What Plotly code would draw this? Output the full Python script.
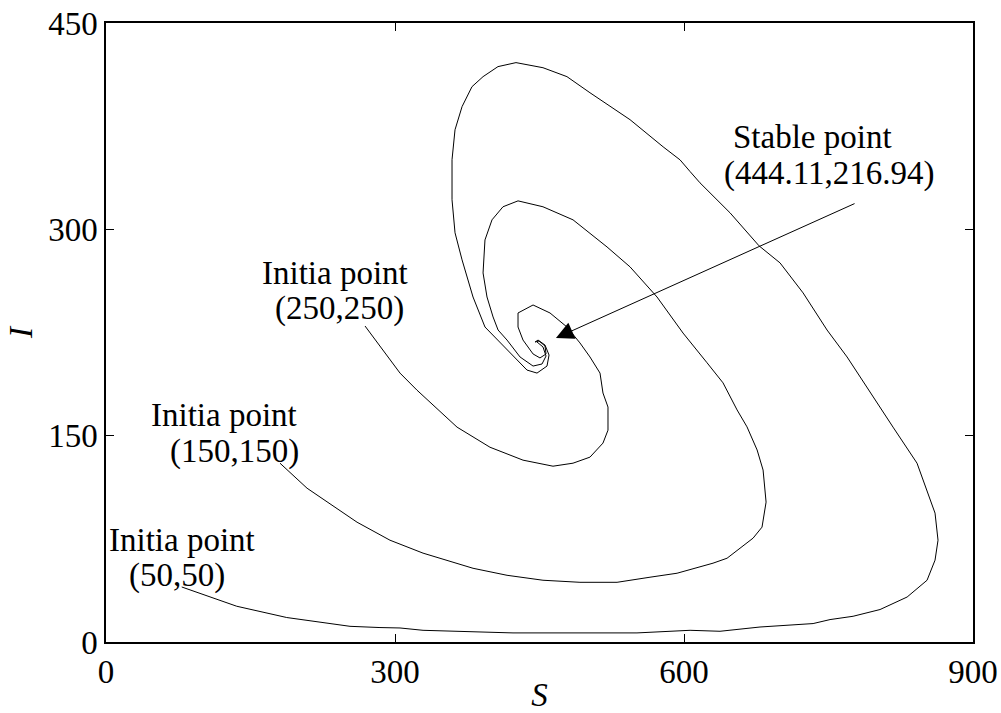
import plotly.graph_objects as go

# Trajectory starting near (50,50)
S_a = [78.6, 135.7, 187.6, 253.3, 284.4, 305.2, 329.1, 422.5, 551.2, 606.3, 637.4, 678.9,
       734.0, 751.6, 775.5, 803.5, 831.6, 852.3, 860.6, 863.7, 860.6, 853.3, 841.9, 817.0,
       790.0, 769.3, 748.5, 723.6, 699.7, 677.9, 647.8, 616.6, 606.3, 595.9, 578.3, 544.0,
       502.4, 478.5, 453.6, 425.6, 406.9, 391.4, 379.9, 369.6, 362.3, 359.2, 359.2, 362.3,
       369.6, 381.0, 393.4, 416.3, 437.0, 447.4, 457.8, 459.9, 455.7, 448.5, 445.4]
I_a = [40.0, 26.0, 17.8, 11.4, 10.5, 10.2, 8.5, 6.6, 6.6, 8.5, 7.8, 10.9,
       13.4, 16.3, 18.7, 23.6, 32.7, 44.9, 59.5, 74.0, 93.7, 108.2, 130.0, 156.2,
       185.4, 207.2, 226.8, 253.8, 275.6, 288.0, 312.0, 333.8, 342.0, 350.5, 360.0, 379.7,
       399.3, 411.0, 417.5, 421.2, 418.3, 411.0, 403.7, 389.2, 372.4, 350.6, 321.5, 297.5,
       277.8, 250.8, 229.0, 212.3, 197.7, 195.5, 200.6, 208.6, 215.9, 219.5, 218.1]

# Trajectory starting near (150,150)
S_b = [180.6, 208.7, 260.6, 294.8, 329.1, 381.0, 416.3, 453.6, 492.0, 530.5, 564.7, 592.8,
       630.1, 644.7, 671.7, 681.0, 685.2, 684.1, 682.1, 675.9, 665.4, 655.1, 640.5, 623.9,
       599.0, 572.0, 544.0, 520.1, 484.8, 453.6, 427.7, 412.1, 400.7, 393.4, 391.4, 395.5,
       401.8, 407.0, 416.3, 429.8, 443.3, 452.6, 456.8, 453.6, 447.4, 445.4]
I_b = [130.0, 111.8, 87.1, 74.0, 64.6, 53.6, 48.5, 44.9, 43.4, 43.4, 47.1, 50.0,
       57.3, 60.9, 75.5, 83.5, 101.7, 110.5, 125.0, 139.6, 156.4, 168.7, 188.4, 203.0,
       224.6, 250.8, 272.7, 287.2, 306.9, 316.4, 320.7, 316.4, 306.9, 292.3, 268.3, 250.8,
       236.3, 226.8, 219.5, 207.2, 200.6, 202.1, 207.9, 214.5, 218.1]

# Trajectory starting near (250,250)
S_c = [268.9, 294.8, 305.2, 322.8, 364.4, 398.6, 432.9, 464.0, 484.8, 502.4, 515.9, 521.1,
       521.1, 515.9, 512.8, 502.4, 492.0, 478.5, 460.9, 443.3, 427.7, 427.7, 432.9, 443.3,
       450.5, 456.8, 455.7, 449.5, 445.4]
I_c = [229.7, 204.9, 195.5, 183.1, 156.2, 141.6, 132.2, 127.8, 130.0, 134.4, 144.6, 154.0,
       170.8, 181.0, 195.5, 207.2, 217.4, 229.0, 239.2, 245.0, 239.2, 229.0, 219.5, 209.4,
       206.5, 209.4, 215.2, 218.8, 218.1]

x_ticks = [0, 300, 600, 900]
y_ticks = [0, 150, 300, 450]

stable_label = ["Stable point", "(444.11,216.94)"]
init_labels = [["Initia point", "(250,250)"], ["Initia point", "(150,150)"], ["Initia point", "(50,50)"]]

FONT = "Liberation Serif"

fig = go.Figure()
for xs, ys in [(S_a, I_a), (S_b, I_b), (S_c, I_c)]:
    fig.add_trace(go.Scatter(x=xs, y=ys, mode="lines", line=dict(color="black", width=1),
                             showlegend=False, hoverinfo="skip"))

# label placements (data coords of text centers)
label_pos = [
    [(238.2, 268.0), (242.9, 242.5)],
    [(123.0, 165.3), (133.9, 138.5)],
    [(79.4, 74.0), (73.7, 48.0)],
]
annotations = []
for lines, pos in zip(init_labels, label_pos):
    for txt, (px, py) in zip(lines, pos):
        annotations.append(dict(x=px, y=py, xref="x", yref="y", text=txt, showarrow=False,
                                xanchor="center", yanchor="middle", borderpad=0,
                                font=dict(family=FONT, size=33, color="black")))
for txt, (px, py) in zip(stable_label, [(733.4, 366.9), (750.6, 340.3)]):
    annotations.append(dict(x=px, y=py, xref="x", yref="y", text=txt, showarrow=False,
                            xanchor="center", yanchor="middle", borderpad=0,
                            font=dict(family=FONT, size=33, color="black")))
annotations.append(dict(x=467.1, y=221.0, xref="x", yref="y", ax=778.6, ay=319.2,
                        axref="x", ayref="y", text="", showarrow=True, arrowhead=2,
                        arrowsize=3.5, arrowwidth=1, arrowcolor="black", standoff=0))

axis_common = dict(showgrid=False, zeroline=False, showline=True, linecolor="black",
                   linewidth=1.5, mirror="ticks", ticks="inside", ticklen=8, tickwidth=1,
                   tickcolor="black", automargin=False,
                   tickfont=dict(family=FONT, size=33, color="black"))

fig.update_layout(
    width=1001, height=713,
    margin=dict(l=106, r=28, t=23, b=71, autoexpand=False),
    paper_bgcolor="white", plot_bgcolor="white",
    xaxis=dict(range=[0, 900], tickvals=x_ticks, ticktext=[str(v) for v in x_ticks],
               title=dict(text="<i>S</i>", font=dict(family=FONT, size=33, color="black"), standoff=6),
               **axis_common),
    yaxis=dict(range=[0, 450], tickvals=y_ticks, ticktext=[str(v) for v in y_ticks],
               title=dict(text="<i>I</i>", font=dict(family=FONT, size=33, color="black"), standoff=6),
               **axis_common),
    annotations=annotations,
)

fig.write_html("out.html", config={"displayModeBar": False},
               post_script="document.body.style.margin='0';document.body.style.overflow='hidden';")
